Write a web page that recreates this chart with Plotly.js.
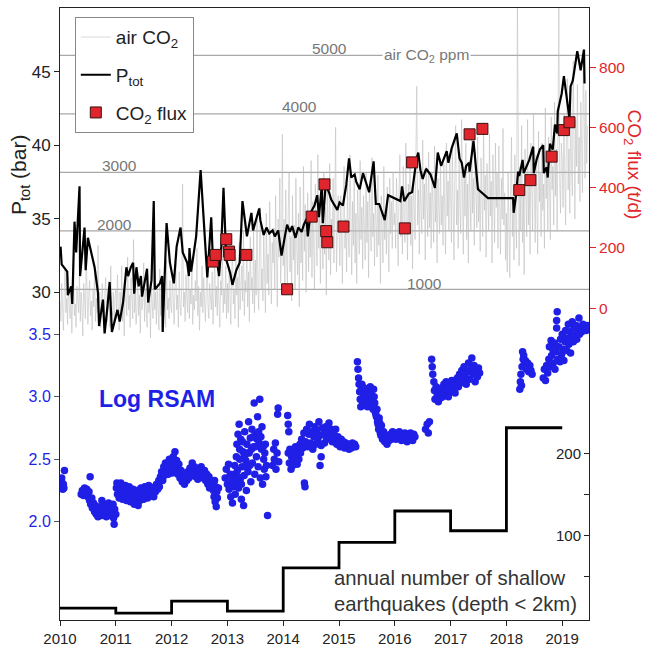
<!DOCTYPE html>
<html>
<head>
<meta charset="utf-8">
<script src="https://cdn.plot.ly/plotly-3.0.1.min.js"></script>
<style>html,body{margin:0;padding:0;background:#fff;}#chart{width:648px;height:649px;}</style>
</head>
<body>
<div id="chart"></div>
<script>
// ---------------- DATA ----------------
const yearTicks = [2010,2011,2012,2013,2014,2015,2016,2017,2018,2019];

// air CO2 (ppm), evenly sampled series (66 samples per year)
const airStart = 2010.0;
const airStep = 1 / 66;
const airPpm = [
800,450,1100,650,300,950,1350,600,850,400,1200,700,500,1000,250,900,1450,550,750,350,1050,800,600,1250,450,950,700,200,1100,850,500,1600,650,400,900,1150,550,800,300,1000,700,1300,450,850,600,1750,500,950,350,750,1100,600,250,900,1200,650,450,1000,800,350,1400,700,550,950,400,850,
1000,500,1250,700,300,950,600,1400,450,850,200,1100,750,550,1550,650,900,350,1200,800,500,1850,600,1000,400,700,1300,550,900,250,1150,650,800,1450,450,1000,700,350,1250,600,850,170,1050,750,500,1600,650,950,400,1100,800,300,1350,550,900,700,450,1200,1000,350,1500,650,850,500,1150,700,
600,1200,800,400,1000,1450,650,900,350,1300,750,550,1100,2800,700,950,450,1250,850,600,1600,500,1000,750,1350,400,900,650,1150,800,1700,550,1050,300,950,700,1400,600,1200,850,450,1000,1550,750,500,1100,900,650,1300,400,950,1650,700,1050,550,1250,800,350,1150,900,1800,600,1000,750,1400,500,
1100,600,1400,850,400,1250,1700,750,1000,500,1550,900,1200,350,1800,650,1050,1400,800,2000,550,1150,950,1650,700,1300,450,1900,1000,1200,750,2100,600,
1500,900,2200,1150,650,1700,2400,1000,1350,800,1950,1250,600,2300,1100,1600,900,2500,1300,750,1800,1450,2050,1000,2600,1200,700,2200,1550,2900,1100,1800,3650,
1400,2200,900,2700,1600,1100,2400,3000,1300,1900,800,2600,1500,2100,1000,2900,1700,1250,2300,700,2750,1450,2000,1150,3100,1650,2450,950,1800,2650,1300,2200,1550,
3200,1200,2500,1800,1000,2800,2100,1400,3300,1700,2300,1100,2600,1900,1350,3000,1600,2400,900,2700,2000,1500,3150,1250,2200,1750,2900,1450,2500,3770,1300,2100,2600,
2000,1400,2600,1800,1100,2400,3100,1700,2200,1300,2800,1900,1550,3300,2100,1250,2500,1750,2900,1450,2300,1100,2700,2000,1600,3200,1850,2400,1350,2600,2100,1500,3000,
1800,2500,1200,2800,2050,1650,3250,1900,2300,1400,2700,2150,1550,2950,1750,2450,1100,2600,2000,1450,3100,1850,2350,1600,2750,2200,1300,2900,1950,2500,1700,3000,2100,
2300,1700,2900,2100,1400,2700,3300,1900,2500,1600,3100,2200,1800,3500,2400,1500,2800,2000,3200,1750,2600,1350,2950,2250,1850,3400,4470,2100,2700,1600,3000,2350,1950,
3550,2200,2800,1500,3100,2450,1900,3350,2050,2650,1700,3000,2300,1800,3450,2150,2750,1450,2900,2400,1950,3250,2100,2600,1750,3150,2500,1600,3500,2250,2850,2000,3300,
2500,1800,3400,2200,1500,3000,3800,2100,2700,1700,3300,2400,1950,3900,2600,1600,3100,2250,3500,1850,2800,1450,3200,2450,2000,3700,2300,2900,1750,3350,2550,2050,3600,
2150,2750,1650,3250,2600,1900,3850,2350,2950,1550,3150,2500,2000,3650,2250,2850,1450,3300,2700,1800,3500,2400,3000,1700,3450,2550,1600,2900,2200,3750,2100,2650,1500,
2300,1300,3000,2100,1200,2700,3600,1900,2500,1500,3300,2200,1700,6000,2400,1400,3100,2000,3800,1800,2600,1250,3400,2300,1900,3900,2100,2800,1600,3500,2450,2000,4000,
2600,1800,3300,2200,1600,3700,2500,3000,1900,3500,2350,2800,1700,4100,2550,3200,2000,3600,2400,1850,3950,2700,3100,2100,4200,2600,3400,2000,3800,6000,2900,2300,3500,
3200,2400,4000,2900,2100,3700,4600,2700,3400,2300,4300,3000,2600,4900,3300,2200,3900,3100,4500,2800,3600,2500,4200,3050,2650,5100,3350,2900,4400,3150,3800
];
const airGrid = [1000,2000,3000,4000,5000];

// P_tot (bar)
const ptotYear = [2010.01,2010.03,2010.13,2010.14,2010.20,2010.22,2010.26,2010.29,2010.35,2010.36,2010.44,2010.46,2010.50,2010.55,2010.62,2010.68,2010.70,2010.77,2010.80,2010.85,2010.89,2010.93,2010.98,
2011.03,2011.07,2011.13,2011.19,2011.22,2011.27,2011.31,2011.33,2011.37,2011.41,2011.45,2011.47,2011.52,2011.56,2011.58,2011.64,2011.68,2011.70,2011.79,2011.83,2011.84,2011.91,2011.97,
2012.04,2012.09,2012.16,2012.20,2012.28,2012.31,2012.32,2012.35,2012.44,2012.52,2012.64,2012.71,2012.74,2012.80,2012.85,2012.89,2012.93,2012.98,
2013.05,2013.09,2013.16,2013.22,2013.27,2013.35,2013.43,2013.46,2013.52,2013.57,2013.59,2013.65,2013.70,2013.75,2013.81,2013.85,2013.91,2013.97,
2014.03,2014.07,2014.12,2014.16,2014.22,2014.27,2014.33,2014.37,2014.42,2014.44,2014.49,2014.56,2014.61,2014.64,2014.69,2014.71,2014.76,2014.82,2014.86,2014.92,2014.97,
2015.01,2015.07,2015.13,2015.18,2015.22,2015.28,2015.31,2015.37,2015.43,2015.47,2015.54,2015.62,2015.66,2015.72,2015.82,2015.88,
2016.00,2016.10,2016.13,2016.17,2016.25,2016.31,2016.39,2016.42,2016.46,2016.50,2016.56,2016.64,2016.72,2016.77,2016.83,2016.93,2016.96,
2017.02,2017.11,2017.16,2017.20,2017.24,2017.28,2017.33,2017.34,2017.41,2017.49,2017.67,
2018.12,2018.13,2018.17,2018.21,2018.23,2018.29,2018.31,2018.36,2018.41,2018.48,2018.49,2018.54,2018.60,2018.66,2018.67,2018.72,2018.74,2018.78,2018.83,2018.87,2018.91,2018.92,2018.99,
2019.03,2019.08,2019.13,2019.15,2019.19,2019.27,2019.33,2019.39,2019.40];
const ptotVal = [33.1,31.9,31.4,29.8,30.4,29.2,34.8,32.7,37.2,31.1,34.4,31.5,33.7,32.9,31.7,30.0,27.7,29.5,27.2,29.0,30.7,27.3,28.0,
28.8,28.0,29.3,31.7,31.1,31.7,32.0,29.9,31.7,30.4,31.1,29.7,30.8,31.6,29.3,30.8,36.2,30.2,30.6,31.1,27.3,34.7,32.0,
30.6,33.1,34.4,32.7,32.0,31.1,33.0,31.4,33.8,38.3,31.0,35.1,32.2,32.6,31.1,33.1,37.1,32.2,
31.3,30.5,31.5,32.0,36.2,33.8,35.4,34.2,35.0,35.7,34.9,33.9,34.4,34.0,34.2,33.8,34.2,32.5,
33.8,34.6,34.1,34.5,33.7,34.4,34.1,34.6,35.0,33.8,35.4,35.9,36.6,35.1,37.2,34.7,37.3,36.8,36.3,35.9,35.6,
36.1,35.9,37.3,39.1,37.8,38.0,37.5,37.0,38.1,37.6,36.8,38.9,36.0,36.0,34.9,36.6,
36.4,36.2,37.2,36.2,36.7,36.8,39.1,39.5,38.3,37.7,38.4,38.0,37.1,39.5,38.6,39.6,38.8,
39.8,40.8,39.1,38.8,37.8,38.6,38.8,38.2,40.3,37.0,36.4,
36.4,35.4,36.5,38.2,37.9,39.0,38.1,38.5,39.0,39.9,38.1,39.0,39.7,40.0,38.1,38.5,37.8,40.1,39.7,41.4,40.8,42.3,43.5,
44.7,43.1,41.8,44.0,44.4,46.4,45.1,46.5,44.2];

// CO2 flux (t/d)
const fluxYear = [2012.74,2012.79,2012.98,2013.03,2013.04,2013.34,2014.07,2014.51,2014.74,2014.77,2014.79,2015.08,2016.18,2016.31,2017.34,2017.57,2018.23,2018.43,2018.81,2019.03,2019.13];
const fluxVal  = [155,177,229,188,177,177,63,304,411,256,219,271,265,484,577,595,392,425,503,591,617];

// Log RSAM
const rsamYear = [
2010.02,2010.03,2010.04,2010.05,2010.03,2010.06,2010.08,2010.07,
2010.38,2010.40,2010.42,2010.44,2010.46,2010.48,2010.50,2010.52,2010.53,2010.54,2010.55,2010.57,2010.58,2010.60,2010.62,2010.63,2010.65,2010.66,2010.68,2010.69,2010.71,2010.72,2010.74,2010.75,2010.77,2010.78,2010.80,2010.81,2010.83,2010.84,2010.86,2010.87,2010.89,2010.90,2010.92,2010.93,2010.95,2010.96,2010.97,2010.98,2011.00,
2011.01,2011.02,2011.03,2011.05,2011.06,2011.08,2011.09,2011.11,2011.12,2011.14,2011.16,2011.17,2011.19,2011.21,2011.22,2011.24,2011.26,2011.27,2011.29,2011.31,2011.33,2011.34,2011.36,2011.38,2011.40,2011.41,2011.43,2011.45,2011.47,2011.48,2011.50,2011.52,2011.54,2011.55,2011.57,2011.59,2011.61,2011.62,2011.64,2011.66,2011.68,2011.70,2011.71,2011.73,2011.75,2011.77,2011.78,2011.80,
2011.82,2011.84,2011.86,2011.87,2011.89,2011.91,2011.93,2011.94,2011.96,2011.98,2012.00,2012.01,2012.03,2012.05,2012.06,2012.08,2012.09,2012.11,2012.13,2012.15,2012.17,2012.19,2012.21,2012.23,2012.25,2012.27,2012.29,2012.31,2012.33,2012.35,2012.37,2012.39,2012.41,2012.43,2012.45,2012.47,2012.49,2012.51,2012.53,2012.55,2012.57,2012.59,2012.61,2012.63,2012.65,2012.67,2012.68,2012.70,
2012.74,2012.75,2012.76,2012.77,2012.78,2012.79,2012.80,2012.81,2012.82,2012.84,
2012.96,2012.98,2013.00,2013.02,2013.03,2013.05,2013.06,2013.08,2013.09,2013.11,2013.12,2013.14,2013.15,2013.17,2013.18,2013.19,2013.20,2013.21,2013.22,2013.23,2013.24,2013.25,2013.26,2013.28,2013.29,2013.30,2013.31,2013.33,2013.34,2013.35,2013.37,2013.38,2013.39,2013.41,2013.42,2013.44,2013.45,2013.47,2013.48,2013.49,2013.51,2013.52,2013.54,2013.55,2013.57,2013.58,2013.59,2013.61,2013.62,2013.63,2013.65,2013.66,2013.68,2013.69,2013.72,2013.81,2013.83,2013.84,2013.86,2013.87,2013.89,2013.90,2013.91,2013.92,
2013.13,2013.16,2013.19,2013.22,2013.25,2013.27,2013.30,2013.32,2013.36,2013.40,2013.43,2013.46,2013.50,2013.53,2013.56,2013.60,2013.64,2013.67,2013.70,
2014.08,2014.09,2014.10,2014.09,2014.11,2014.12,2014.14,2014.15,2014.17,2014.18,2014.20,2014.22,2014.23,2014.25,2014.27,2014.28,2014.30,2014.31,2014.33,2014.35,2014.37,2014.38,2014.39,2014.40,2014.42,2014.44,2014.46,2014.47,2014.49,2014.51,2014.53,2014.55,2014.57,2014.58,2014.60,2014.62,2014.64,2014.66,2014.68,2014.70,2014.66,2014.68,
2014.72,2014.74,2014.76,2014.78,2014.80,2014.82,2014.84,2014.86,2014.88,2014.90,2014.92,2014.94,2014.96,2014.98,2015.00,2015.02,2015.04,2015.06,2015.08,2015.10,2015.12,2015.14,2015.16,2015.18,2015.20,2015.22,2015.24,2015.26,2015.28,2015.30,
2015.33,2015.34,2015.35,2015.36,2015.37,2015.38,2015.40,2015.42,2015.44,2015.46,2015.48,2015.50,2015.52,2015.54,2015.56,2015.58,2015.60,2015.62,2015.64,2015.66,2015.68,2015.70,2015.72,2015.74,2015.76,2015.78,2015.80,2015.82,2015.84,2015.86,2015.88,2015.90,2015.92,2015.94,2015.96,2015.98,2016.00,2016.02,2016.04,2016.06,2016.08,2016.10,2016.12,2016.14,2016.16,2016.18,2016.20,2016.22,2016.24,2016.26,2016.28,2016.30,2016.32,2016.34,2016.36,
2015.39,2015.41,2015.43,2015.45,2015.47,2015.49,2015.51,2015.53,2015.55,2015.57,2015.59,2015.61,2015.63,2015.65,2015.67,2015.69,2015.71,2015.73,2015.75,
2016.55,2016.58,2016.60,2016.62,2016.66,2016.67,2016.68,2016.70,2016.71,2016.72,2016.74,2016.76,2016.78,2016.80,2016.82,2016.84,2016.86,2016.88,2016.90,2016.92,2016.94,2016.96,2016.98,2017.00,2017.02,2017.04,2017.06,2017.08,2017.10,2017.12,2017.14,2017.16,2017.18,2017.20,2017.22,2017.24,2017.26,2017.28,2017.30,2017.32,2017.34,2017.36,2017.38,2017.40,2017.42,2017.44,2017.46,2017.48,2017.50,2017.52,
2018.24,2018.25,2018.26,2018.27,2018.28,2018.29,2018.30,2018.31,2018.32,2018.34,2018.36,2018.38,2018.40,2018.42,2018.44,2018.46,
2018.66,2018.68,2018.70,2018.72,2018.74,2018.76,2018.77,2018.78,2018.80,2018.81,2018.83,2018.84,2018.86,2018.87,2018.89,2018.90,2018.90,2018.91,2018.92,2018.94,2018.96,2018.97,2018.99,2019.00,2019.02,2019.03,2019.05,2019.06,2019.08,2019.09,2019.11,2019.12,2019.14,2019.15,2019.17,2019.18,2019.20,2019.21,2019.23,2019.25,2019.26,2019.28,2019.30,2019.31,2019.33,2019.35,2019.37,2019.39,2019.41,2019.43,2019.45,2019.47
];
const rsamVal = [
2.33,2.28,2.31,2.26,2.35,2.30,2.41,2.27,
2.22,2.25,2.21,2.27,2.23,2.26,2.20,2.24,2.17,2.36,2.14,2.19,2.11,2.15,2.08,2.13,2.06,2.11,2.04,2.09,2.06,2.12,2.05,2.17,2.08,2.14,2.06,2.11,2.04,2.13,2.07,2.15,2.09,2.05,2.12,2.07,2.14,2.03,1.98,2.10,2.06,
2.27,2.31,2.22,2.29,2.19,2.26,2.31,2.24,2.18,2.27,2.21,2.29,2.17,2.25,2.20,2.28,2.16,2.23,2.19,2.26,2.14,2.22,2.18,2.25,2.13,2.21,2.17,2.27,2.20,2.24,2.18,2.28,2.22,2.26,2.19,2.29,2.23,2.27,2.21,2.25,2.20,2.28,2.24,2.30,2.26,2.33,2.28,2.36,
2.40,2.33,2.44,2.37,2.47,2.40,2.45,2.38,2.50,2.42,2.47,2.39,2.52,2.44,2.56,2.42,2.49,2.38,2.46,2.35,2.41,2.32,2.38,2.30,2.36,2.33,2.40,2.35,2.43,2.37,2.47,2.41,2.44,2.36,2.41,2.34,2.42,2.37,2.44,2.38,2.35,2.41,2.33,2.38,2.30,2.36,2.27,2.33,
2.30,2.25,2.20,2.33,2.16,2.28,2.12,2.24,2.19,2.27,
2.35,2.42,2.30,2.46,2.26,2.38,2.20,2.33,2.15,2.28,2.38,2.22,2.32,2.62,2.41,2.70,2.27,2.78,2.50,2.34,2.66,2.18,2.44,2.56,2.13,2.37,2.72,2.49,2.25,2.62,2.40,2.80,2.55,2.67,2.32,2.74,2.47,2.60,2.95,2.38,2.70,2.52,2.84,2.44,2.63,2.98,2.35,2.58,2.76,2.30,2.50,2.42,2.62,2.36,2.05,2.45,2.58,2.50,2.63,2.42,2.55,2.86,2.91,2.48,
2.45,2.52,2.36,2.58,2.30,2.64,2.52,2.44,2.55,2.45,2.58,2.68,2.60,2.66,2.72,2.68,2.60,2.55,2.45,
2.85,2.78,2.72,2.55,2.47,2.58,2.42,2.52,2.45,2.56,2.49,2.60,2.53,2.46,2.57,2.50,2.62,2.55,2.66,2.59,2.71,2.31,2.28,2.64,2.74,2.60,2.70,2.78,2.63,2.72,2.58,2.68,2.76,2.62,2.73,2.65,2.80,2.69,2.61,2.75,2.45,2.52,
2.70,2.63,2.76,2.66,2.72,2.79,2.68,2.74,2.64,2.71,2.66,2.74,2.62,2.68,2.64,2.60,2.66,2.61,2.64,2.59,2.63,2.60,2.62,2.58,2.62,2.59,2.63,2.60,2.62,2.60,
3.28,3.22,3.15,3.10,3.04,2.98,3.06,2.96,3.02,2.93,3.00,2.95,3.05,2.97,3.08,3.00,2.92,3.06,2.95,2.86,2.90,2.78,2.83,2.71,2.77,2.66,2.72,2.64,2.69,2.62,2.68,2.65,2.70,2.66,2.72,2.67,2.70,2.66,2.71,2.67,2.72,2.68,2.65,2.70,2.66,2.71,2.67,2.64,2.69,2.66,2.71,2.67,2.65,2.70,2.68,
2.92,3.10,2.99,3.07,2.97,3.04,2.92,3.02,2.94,3.03,2.97,2.90,3.00,2.88,2.84,2.80,2.74,2.79,2.69,
2.74,2.78,2.71,2.80,3.30,3.24,3.18,3.12,3.05,2.98,3.08,3.01,2.96,3.04,2.99,3.07,3.00,3.10,3.03,3.12,3.06,3.00,3.09,3.04,3.13,3.06,3.11,3.03,3.10,3.15,3.08,3.18,3.11,3.21,3.14,3.24,3.16,3.10,3.20,3.27,3.14,3.22,3.31,3.18,3.25,3.12,3.21,3.16,3.23,3.19,
3.06,3.12,3.18,3.09,3.24,3.36,3.30,3.33,3.26,3.29,3.22,3.27,3.20,3.25,3.21,3.18,
3.15,3.22,3.13,3.25,3.19,3.30,3.40,3.24,3.45,3.33,3.38,3.27,3.43,3.22,3.36,3.55,3.61,3.68,3.30,3.40,3.28,3.46,3.34,3.50,3.38,3.29,3.44,3.53,3.37,3.47,3.58,3.42,3.52,3.35,3.48,3.60,3.44,3.55,3.49,3.57,3.46,3.52,3.63,3.50,3.55,3.52,3.58,3.54,3.56,3.53,3.57,3.55
];

// annual number of shallow earthquakes (depth < 2 km)
const eqEdges = [2010,2011,2012,2013,2014,2015,2016,2017,2018,2019];
const eqCount = [12,6,20.6,8.5,61,92,130,106,231];

// ---------------- BUILD ----------------
const airYear = airPpm.map((_, i) => airStart + i * airStep);
const FONT = 'Liberation Sans, Arial, Helvetica, sans-serif';
const RED = '#e0262c';
const BLUE = '#1f1fe6';

const traces = [
  {x: airYear, y: airPpm, type: 'scatter', mode: 'lines', yaxis: 'y',
   name: 'air CO<sub>2</sub>', legendgroup: 'a',
   line: {color: '#bcbcbc', width: 0.55}},
  {x: ptotYear, y: ptotVal, type: 'scatter', mode: 'lines', yaxis: 'y2',
   name: 'P<sub>tot</sub>', legendgroup: 'b',
   line: {color: '#000', width: 2.2}},
  {x: rsamYear, y: rsamVal, type: 'scatter', mode: 'markers', yaxis: 'y3',
   showlegend: false, marker: {color: BLUE, size: 7.5}},
  {x: eqEdges, y: eqCount.concat([eqCount[eqCount.length - 1]]), type: 'scatter', mode: 'lines', yaxis: 'y4',
   showlegend: false, line: {color: '#000', width: 2.8, shape: 'hv'}},
  {x: fluxYear, y: fluxVal, type: 'scatter', mode: 'markers', yaxis: 'y5',
   name: 'CO<sub>2</sub> flux', legendgroup: 'c',
   marker: {symbol: 'square', size: 11, color: RED, line: {color: '#3a1010', width: 1}}}
];

const gridShapes = airGrid.map(v => ({type: 'line', xref: 'paper', x0: 0, x1: 1, yref: 'y', y0: v, y1: v,
  line: {color: '#a8a8a8', width: 1.2}, layer: 'below'}));

const gridLabelPos = {1000: [2016.54, 1108], 2000: [2010.98, 2116], 3000: [2011.07, 3125], 4000: [2014.30, 4133], 5000: [2014.83, 5125]};
const annotations = airGrid.map(v => ({xref: 'x', yref: 'y', x: gridLabelPos[v][0], y: gridLabelPos[v][1],
  xanchor: 'center', yanchor: 'middle',
  text: String(v), showarrow: false, font: {family: FONT, size: 15.5, color: '#777'}}));

annotations.push(
  {xref: 'x', yref: 'y', x: 2016.57, y: 4990, xanchor: 'center', yanchor: 'middle',
   text: 'air CO<sub>2</sub> ppm', showarrow: false,
   bgcolor: '#fff', font: {family: FONT, size: 15.5, color: '#777'}},
  {xref: 'x', yref: 'y3', x: 2011.74, y: 2.98, xanchor: 'center', yanchor: 'middle',
   text: '<b>Log RSAM</b>', showarrow: false,
   font: {family: FONT, size: 23, color: BLUE}},
  {xref: 'x', yref: 'y4', x: 2014.88, y: 33.5, xanchor: 'left', yanchor: 'middle', align: 'left',
   text: 'annual number of shallow<br>earthquakes (depth &lt; 2km)', showarrow: false,
   font: {family: FONT, size: 20.3, color: '#333'}},
  {xref: 'paper', yref: 'paper', x: -0.0756, y: 0.727, xanchor: 'center', yanchor: 'middle',
   text: 'P<sub>tot</sub> (bar)', textangle: -90,
   showarrow: false, font: {family: FONT, size: 21, color: '#222'}},
  {xref: 'paper', yref: 'paper', x: 1.084, y: 0.7435, xanchor: 'center', yanchor: 'middle',
   text: 'CO<sub>2</sub> flux (t/d)', textangle: 90,
   showarrow: false, font: {family: FONT, size: 19, color: RED}}
);

const layout = {
  width: 648, height: 649,
  margin: {l: 60, r: 59, t: 8, b: 29, pad: 0},
  paper_bgcolor: '#fff', plot_bgcolor: '#fff',
  font: {family: FONT, color: '#222'},
  showlegend: true,
  legend: {x: 0.028, y: 0.985, xanchor: 'left', yanchor: 'top', bgcolor: '#fff',
    bordercolor: '#888', borderwidth: 1, traceorder: 'grouped', tracegroupgap: 10,
    itemwidth: 30,
    font: {family: FONT, size: 19, color: '#222'}},
  xaxis: {range: [2010, 2019.48], tickvals: yearTicks, ticktext: yearTicks.map(String),
    ticks: 'outside', ticklen: 5, tickcolor: '#222', showline: true, mirror: true,
    linecolor: '#222', linewidth: 1.2, showgrid: false, zeroline: false,
    tickfont: {family: FONT, size: 15, color: '#222'}},
  yaxis: {range: [-4653, 5809], showticklabels: false, ticks: '', showgrid: false, zeroline: false,
    showline: true, mirror: true, linecolor: '#222', linewidth: 1.2},
  yaxis2: {overlaying: 'y', side: 'left', range: [7.71, 49.33], tickvals: [30, 35, 40, 45],
    ticks: 'outside', ticklen: 5, tickcolor: '#222', showgrid: false, zeroline: false, showline: false,
    tickfont: {family: FONT, size: 17, color: '#222'}},
  yaxis3: {overlaying: 'y', side: 'left', range: [1.2136, 6.1104], tickvals: [2, 2.5, 3, 3.5],
    ticktext: ['2.0', '2.5', '3.0', '3.5'], ticks: 'outside', ticklen: 5, tickcolor: '#556',
    showgrid: false, zeroline: false, showline: false,
    tickfont: {family: FONT, size: 16, color: BLUE}},
  yaxis4: {overlaying: 'y', anchor: 'free', position: 1, side: 'left', range: [-2.3, 740.4],
    tickvals: [50, 100, 150, 200], ticktext: ['', '100', '', '200'], ticks: 'outside', ticklen: 5,
    tickcolor: '#222', showgrid: false, zeroline: false, showline: false,
    tickfont: {family: FONT, size: 15, color: '#222'}},
  yaxis5: {overlaying: 'y', side: 'right', range: [-1034, 996], tickvals: [0, 200, 400, 600, 800],
    ticks: 'outside', ticklen: 6, tickcolor: RED, showgrid: false, zeroline: false, showline: false,
    tickfont: {family: FONT, size: 15.5, color: RED}},
  shapes: gridShapes,
  annotations: annotations
};

Plotly.newPlot('chart', traces, layout, {displayModeBar: false, staticPlot: true});
</script>
</body>
</html>
